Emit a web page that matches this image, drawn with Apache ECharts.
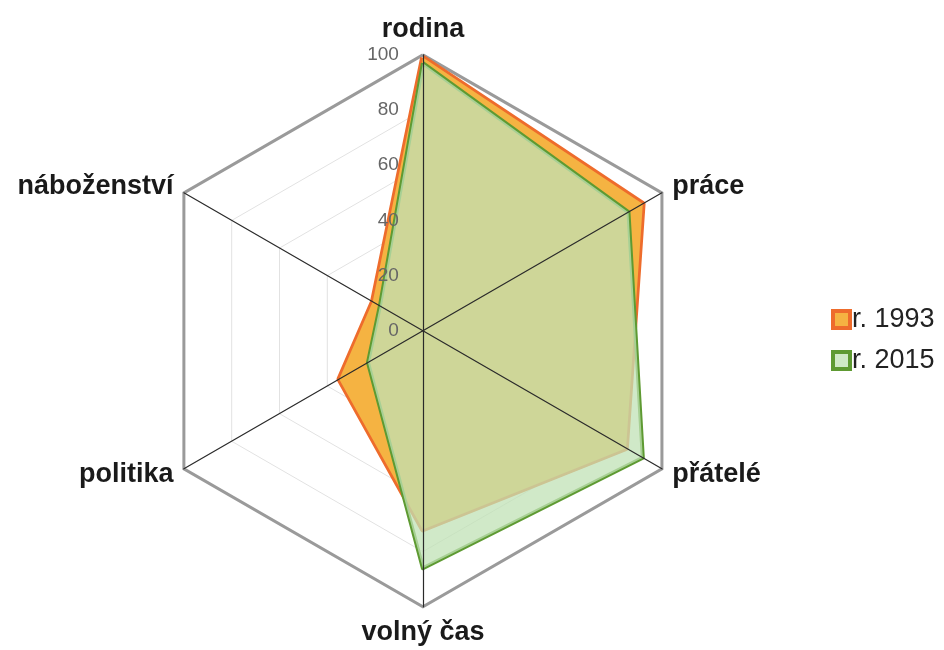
<!DOCTYPE html>
<html>
<head>
<meta charset="utf-8" />
<script src="https://cdn.jsdelivr.net/npm/echarts@6/dist/echarts.min.js"></script>
</head>
<body style="margin:0;background:#fff">
<div id="chart" style="width:944px;height:650px;"></div>
<script>
// indicators in ECharts order (counter-clockwise from the top)
var categories = ['rodina', 'náboženství', 'politika', 'volný čas', 'přátelé', 'práce'];
var values1993 = [99, 21, 35, 72, 85, 92];
var values2015 = [97, 18, 23, 86, 92, 86];
var seriesNames = ['r. 1993', 'r. 2015'];
var tickLabels = ['0', '20', '40', '60', '80', '100'];

var center = ['44.8%', '50.9%'];
var radius = 276;
var font = 'Liberation Sans, Arial, sans-serif';

var indicator = categories.map(function (c) { return { name: c, max: 100, min: 0 }; });

var chart = echarts.init(document.getElementById('chart'));
chart.setOption({
  animation: false,
  legend: {
    orient: 'vertical',
    left: 826,
    top: 301,
    itemWidth: 17,
    itemHeight: 17,
    itemGap: 14,
    textStyle: { fontSize: 27, color: '#222', fontFamily: font, padding: [0, 0, 0, -3] },
    data: [
      { name: seriesNames[0], icon: 'rect', itemStyle: { color: '#f5b342', borderColor: '#ee6c2c', borderWidth: 4 } },
      { name: seriesNames[1], icon: 'rect', itemStyle: { color: '#cfe9c6', borderColor: '#5e9a32', borderWidth: 4 } }
    ]
  },
  radar: [
    {
      center: center, radius: radius, startAngle: 90, splitNumber: 5,
      indicator: indicator,
      nameGap: 12,
      axisName: { color: '#1a1a1a', fontSize: 27, fontWeight: 'bold', fontFamily: font },
      splitLine: { lineStyle: { color: '#e2e2e2', width: 1 } },
      splitArea: { show: false },
      axisLine: { show: false }
    },
    {
      center: center, radius: radius, startAngle: 90, splitNumber: 1,
      indicator: indicator,
      axisName: { show: false },
      splitLine: { lineStyle: { color: '#9a9a9a', width: 3 } },
      splitArea: { show: false },
      axisLine: { show: false }
    },
    {
      center: center, radius: radius, startAngle: 90, splitNumber: 1, z: 5,
      indicator: indicator,
      axisName: { show: false },
      splitLine: { show: false },
      splitArea: { show: false },
      axisLine: { lineStyle: { color: '#2a2a2a', width: 1.2 } }
    }
  ],
  polar: { center: center, radius: radius },
  angleAxis: { show: false, startAngle: 90, min: 0, max: 360 },
  radiusAxis: {
    type: 'value', min: 0, max: 100, interval: 20,
    axisLine: { show: false }, axisTick: { show: false }, splitLine: { show: false },
    axisLabel: {
      color: '#666', fontSize: 19, fontFamily: font, margin: 24,
      formatter: function (v) { return tickLabels[v / 20]; }
    },
    z: 6
  },
  series: [
    {
      type: 'radar', radarIndex: 0, symbol: 'none',
      data: [
        {
          name: seriesNames[0], value: values1993,
          lineStyle: { color: '#ee6c2c', width: 5.5 },
          areaStyle: { color: '#f5b342', opacity: 1 },
          itemStyle: { color: '#ee6c2c' }
        },
        {
          name: seriesNames[1], value: values2015,
          lineStyle: { color: '#5e9a32', width: 4 },
          areaStyle: { color: '#c0e2b6', opacity: 0.75 },
          itemStyle: { color: '#5e9a32' }
        }
      ]
    }
  ]
});
</script>
</body>
</html>
